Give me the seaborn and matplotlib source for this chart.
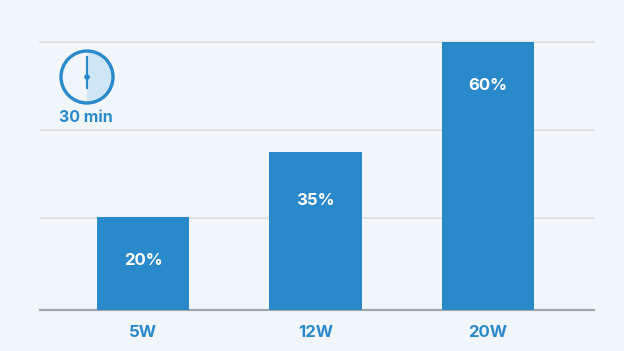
import matplotlib
matplotlib.use("Agg")
import pandas as pd
import seaborn as sns
from matplotlib import pyplot as plt
from matplotlib.patches import Circle, Wedge

categories = ["5W", "12W", "20W"]
heights = [20.8, 35.4, 60]
labels = ["20%", "35%", "60%"]
grid_ticks = [20.6, 40.3, 60]
label_drop = [43, 49, 44]

BG = "#f1f6fb"
BLUE = "#2a89cb"
W, H = 624, 351

sns.set_theme(style="white")
plt.rcParams["font.family"] = ["Inter", "DejaVu Sans"]

fig = plt.figure(figsize=(W / 100, H / 100), dpi=100, facecolor=BG)
ax = fig.add_axes([40 / W, 1 - 310 / H, 554 / W, 268 / H], facecolor=BG)

df = pd.DataFrame({"category": categories, "height": heights})
sns.barplot(df, x="category", y="height", color=BLUE, saturation=1, width=0.535,
            linewidth=0, ax=ax, zorder=3)
for bar, lab, drop in zip(ax.patches, labels, label_drop):
    # pixels and points differ at dpi 100
    ax.annotate(lab, (bar.get_x() + bar.get_width() / 2, bar.get_height()),
                xytext=(0, -drop * 0.72), textcoords="offset points", color="white",
                ha="center", va="center", fontsize=12, fontweight="bold", zorder=4)

ax.set_xlim(-0.597, 2.614)
ax.set_ylim(0, 60)
ax.set_yticks(grid_ticks)
ax.set_yticklabels([])
ax.yaxis.grid(True, color="#e0e2e4", lw=1.6)
ax.yaxis.get_gridlines()[-1].set_clip_on(False)
ax.set_axisbelow(True)
ax.set_xlabel("")
ax.set_ylabel("")
ax.tick_params(axis="x", length=0, pad=11, labelsize=12, labelcolor=BLUE)
ax.tick_params(axis="y", length=0)
for t in ax.get_xticklabels():
    t.set_fontweight("bold")
sns.despine(ax=ax, left=True)
ax.spines["bottom"].set_color("#a3a6a9")
ax.spines["bottom"].set_linewidth(1.6)

# clock icon
cx, cy, r = 87, 77, 26
size = 2 * r + 8
clock = fig.add_axes([(cx - size / 2) / W, 1 - (cy + size / 2) / H, size / W, size / H])
clock.set_xlim(-size / 2, size / 2)
clock.set_ylim(-size / 2, size / 2)
clock.axis("off")
clock.add_patch(Wedge((0, 0), r, -90, 90, fc="#cfe6f6", ec="none"))
clock.add_patch(Circle((0, 0), r, fc="none", ec=BLUE, lw=2.4))
clock.plot([0, 0], [-12.5, 20.5], color=BLUE, lw=1.5, solid_capstyle="butt")
clock.add_patch(Circle((0, 0), 2.8, fc=BLUE, ec="none"))
fig.text(86 / W, 1 - 117.5 / H, "30 min", color=BLUE, ha="center", va="center",
         fontsize=11.5, fontweight="bold")

fig.savefig("out.png", dpi=100, facecolor=BG)
